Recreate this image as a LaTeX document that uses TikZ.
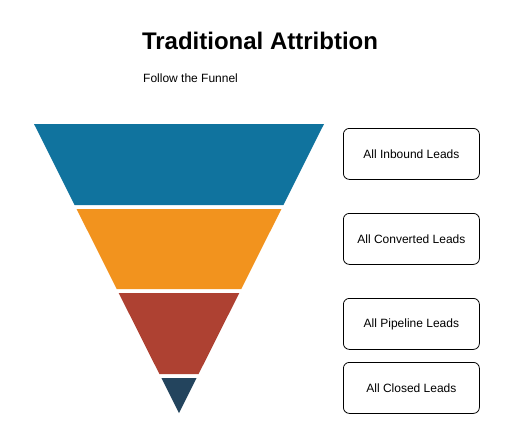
\documentclass[tikz,border=0pt]{standalone}
\usepackage{fontspec}
\setmainfont{Liberation Sans}
\definecolor{fblue}{HTML}{10739E}
\definecolor{forange}{HTML}{F2931E}
\definecolor{fred}{HTML}{AE4132}
\definecolor{fdark}{HTML}{23445D}
\begin{document}
\begin{tikzpicture}[x=1pt,y=-1pt,
  leadbox/.style={draw=black, line width=0.8pt, rounded corners=6pt, fill=white,
    minimum width=136pt, minimum height=51pt, inner sep=0pt, font=\fontsize{12}{14}\selectfont, anchor=north west},
  seg/.style={draw=none}]
\useasboundingbox (0,0) rectangle (507,440);
\node[font=\bfseries\fontsize{24}{28}\selectfont, anchor=center] (title) at (260,41) {Traditional Attribtion};
\node[font=\fontsize{12}{14}\selectfont, anchor=west, inner sep=0pt] (sub) at (143,78) {Follow the Funnel};
% funnel segments (half-width = 145 - 0.5017*(y-124))
\fill[fblue]   (34,124) -- (324,124) -- (283.4,205) -- (74.6,205) -- cycle;
\fill[forange] (76.6,209) -- (281.4,209) -- (241.3,289) -- (116.7,289) -- cycle;
\fill[fred]    (118.7,293) -- (239.3,293) -- (198.6,374) -- (159.4,374) -- cycle;
\fill[fdark]   (161.4,378) -- (196.6,378) -- (179,413) -- cycle;
\node[leadbox] (inbound) at (343,128) {All Inbound Leads};
\node[leadbox] (converted) at (343,213) {All Converted Leads};
\node[leadbox] (pipeline) at (343,298) {All Pipeline Leads};
\node[leadbox] (closed) at (343,362) {All Closed Leads};
\end{tikzpicture}
\end{document}
